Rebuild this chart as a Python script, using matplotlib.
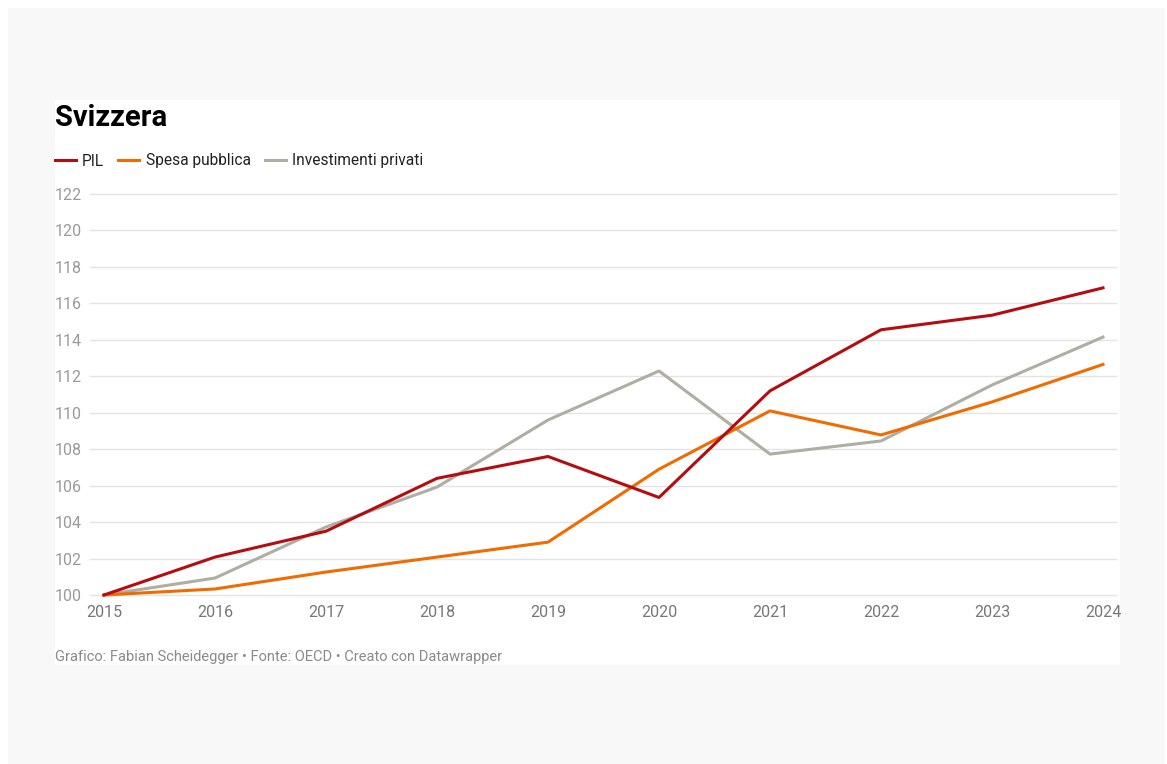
import matplotlib.pyplot as plt
from matplotlib.patches import Rectangle

plt.rcParams['font.family'] = ['Roboto', 'DejaVu Sans']

years = [2015, 2016, 2017, 2018, 2019, 2020, 2021, 2022, 2023, 2024]
pil = [100, 102.08, 103.5, 106.4, 107.6, 105.35, 111.2, 114.55, 115.35, 116.85]
spesa = [100, 100.33, 101.26, 102.08, 102.9, 106.9, 110.1, 108.78, 110.59, 112.65]
invest = [100, 100.93, 103.73, 105.92, 109.6, 112.29, 107.73, 108.45, 111.52, 114.15]
yticks = list(range(100, 124, 2))

W, H = 1167, 764
fig = plt.figure(figsize=(W / 100, H / 100), dpi=100)
fig.patch.set_facecolor('white')

# background panels
fig.add_artist(Rectangle((8 / W, 0), (1165 - 8) / W, (H - 8) / H,
                         transform=fig.transFigure, facecolor='#f8f8f8', edgecolor='none', zorder=0))
fig.add_artist(Rectangle((55 / W, (H - 665) / H), (1120 - 55) / W, (665 - 100) / H,
                         transform=fig.transFigure, facecolor='white', edgecolor='none', zorder=0))

# axes: left 90px, right 1116px, top y=194 (122), bottom y=595 (100)
ax = fig.add_axes([90 / W, (H - 595) / H, (1116 - 90) / W, (595 - 194) / H])
ax.set_facecolor('none')
pxyear = (1103 - 104) / 9
ax.set_xlim(2015 - 14 / pxyear, 2024 + 13 / pxyear)
ax.set_ylim(100, 122)

ax.plot(years, invest, color='#afaea3', lw=2.2, clip_on=False, label='Investimenti privati', zorder=3)
ax.plot(years, spesa, color='#ee6c00', lw=2.2, clip_on=False, label='Spesa pubblica', zorder=4)
ax.plot(years, pil, color='#b30d10', lw=2.2, clip_on=False, label='PIL', zorder=5)

ax.set_yticks(yticks)
ax.set_yticklabels([str(t) for t in yticks])
ax.set_xticks(years)
ax.set_xticklabels([str(y) for y in years])
ax.grid(axis='y', color='#e4e4e4', lw=1)
ax.grid(axis='x', visible=False)
for g in ax.yaxis.get_gridlines():
    g.set_clip_on(False)
ax.tick_params(axis='y', length=0, pad=6, labelsize=11.5, labelcolor='#9a9a9a')
ax.tick_params(axis='x', length=0, pad=7.5, labelsize=11.5, labelcolor='#777777')
for s in ax.spines.values():
    s.set_visible(False)
ax.set_axisbelow(True)

fig.text(55 / W, 1 - 118 / H, 'Svizzera', fontsize=21, fontweight='bold', color='black', va='center')

handles, labels = ax.get_legend_handles_labels()
order = [2, 1, 0]
fig.legend([handles[i] for i in order], [labels[i] for i in order],
           loc='center left', bbox_to_anchor=(55 / W, 1 - 161 / H), ncol=3, frameon=False,
           fontsize=11.2, handlelength=1.35, handletextpad=0.4, columnspacing=0.9,
           labelcolor='#222222', borderaxespad=0, borderpad=0)

fig.text(55 / W, 1 - 657 / H, 'Grafico: Fabian Scheidegger • Fonte: OECD • Creato con Datawrapper',
         fontsize=10.5, color='#8a8a8a', va='center')

fig.savefig('out.png', dpi=100)
